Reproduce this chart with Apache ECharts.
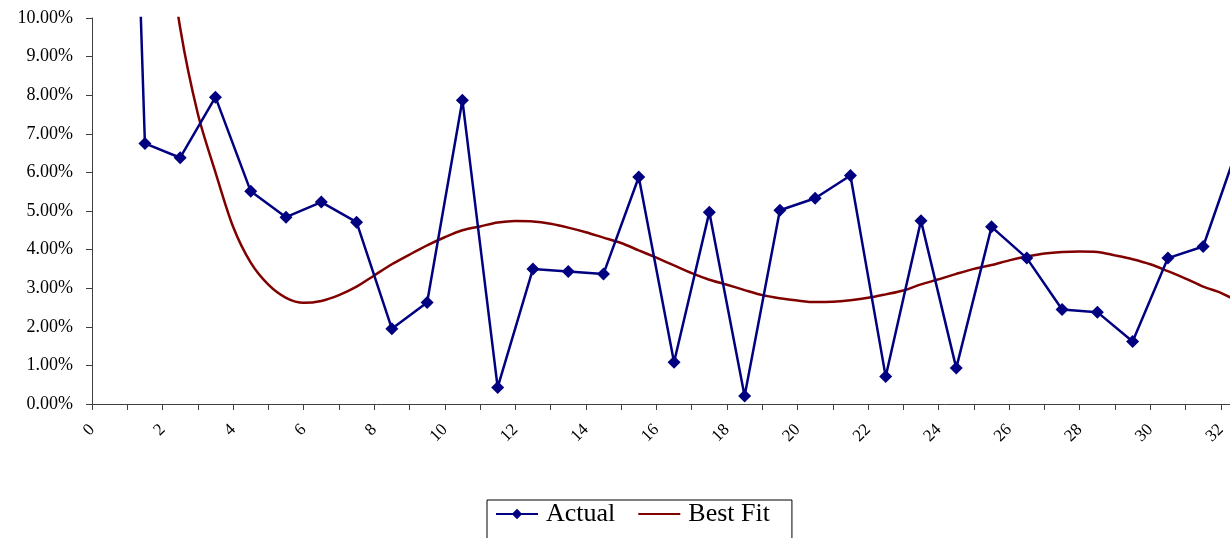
<!DOCTYPE html>
<html>
<head>
<meta charset="utf-8">
<script src="https://cdn.jsdelivr.net/npm/echarts@6/dist/echarts.min.js"></script>
<style>
html,body{margin:0;padding:0;background:#fff;}
#chart{width:1230px;height:538px;}
</style>
</head>
<body>
<div id="chart"></div>
<script>
// ---- data (values in %) ----
const actualX = [0.5,1.5,2.5,3.5,4.5,5.5,6.5,7.5,8.5,9.5,10.5,11.5,12.5,13.5,14.5,15.5,16.5,17.5,18.5,19.5,20.5,21.5,22.5,23.5,24.5,25.5,26.5,27.5,28.5,29.5,30.5,31.5,32.5];
const actualValues = [35.0,6.75,6.38,7.95,5.51,4.84,5.23,4.71,1.95,2.63,7.87,0.43,3.50,3.43,3.37,5.88,1.08,4.97,0.21,5.02,5.33,5.92,0.71,4.75,0.93,4.59,3.78,2.45,2.38,1.62,3.78,4.08,6.71];

const fitX = [2.0,2.5,3.0,3.5,4.0,4.5,5.0,5.5,6.0,6.5,7.0,7.5,8.0,8.5,9.0,9.5,10.0,10.5,11.0,11.5,12.0,12.5,13.0,13.5,14.0,14.5,15.0,15.5,16.0,16.5,17.0,17.5,18.0,18.5,19.0,19.5,20.0,20.5,21.0,21.5,22.0,22.5,23.0,23.5,24.0,24.5,25.0,25.5,26.0,26.5,27.0,27.5,28.0,28.5,29.0,29.5,30.0,30.5,31.0,31.5,32.0,32.5];
const fitValues = [13.0,9.74,7.52,6.0,4.59,3.66,3.09,2.75,2.62,2.67,2.82,3.04,3.33,3.62,3.87,4.11,4.32,4.50,4.60,4.70,4.74,4.73,4.67,4.57,4.45,4.31,4.17,3.98,3.79,3.59,3.39,3.22,3.09,2.95,2.82,2.74,2.68,2.64,2.65,2.69,2.75,2.84,2.94,3.10,3.23,3.37,3.50,3.60,3.72,3.82,3.90,3.94,3.95,3.94,3.85,3.75,3.62,3.44,3.25,3.04,2.88,2.65];

const xTickLabels = ['0','2','4','6','8','10','12','14','16','18','20','22','24','26','28','30','32'];
const seriesNames = ['Actual','Best Fit'];

const actualData = actualX.map((x,i)=>[x, actualValues[i]]);
const fitData = fitX.map((x,i)=>[x, fitValues[i]]);

const FONT = '"Liberation Serif", "Times New Roman", serif';
const chart = echarts.init(document.getElementById('chart'), null, {renderer:'canvas'});
chart.setOption({
  backgroundColor:'#ffffff',
  animation:false,
  grid:{left:92, top:18, right:0, bottom:134, containLabel:false},
  legend:{
    data:[{name:seriesNames[0]}, {name:seriesNames[1], itemStyle:{opacity:0}}],
    left:487, top:500,
    orient:'horizontal',
    itemWidth:42, itemHeight:13,
    itemGap:22,
    padding:[1,22,30,8],
    borderColor:'#000', borderWidth:1,
    textStyle:{fontFamily:FONT, fontSize:26, color:'#000', padding:[0,0,0,3]}
  },
  xAxis:{
    type:'value', min:0, max:32.26, interval:1,
    axisLine:{lineStyle:{color:'#404040', width:1}},
    axisTick:{show:true, inside:false, length:6, lineStyle:{color:'#404040'}},
    splitLine:{show:false},
    axisLabel:{
      rotate:45, margin:23, color:'#000', fontFamily:FONT, fontSize:17,
      showMaxLabel:false,
      formatter:function(v){
        const s = String(Math.round(v));
        if (Math.abs(v-Math.round(v))>1e-6) return '';
        return xTickLabels.indexOf(s) >= 0 ? s : '';
      }
    }
  },
  yAxis:{
    type:'value', min:0, max:10, interval:1,
    axisLine:{show:true, lineStyle:{color:'#404040', width:1}},
    axisTick:{show:true, inside:false, length:6, lineStyle:{color:'#404040'}},
    splitLine:{show:false},
    axisLabel:{margin:19, color:'#000', fontFamily:FONT, fontSize:18,
      formatter:function(v){return v.toFixed(2)+'%';}}
  },
  series:[
    {
      name:seriesNames[0], type:'line', data:actualData, clip:true,
      symbol:'diamond', symbolSize:[13,13], showAllSymbol:true,
      lineStyle:{color:'#000080', width:2.5},
      itemStyle:{color:'#000080'},
      z:3
    },
    {
      name:seriesNames[1], type:'line', data:fitData, clip:true,
      smooth:0.3, symbol:'none', showSymbol:false,
      lineStyle:{color:'#800000', width:2.5},
      itemStyle:{color:'#800000'},
      z:2
    }
  ]
});
</script>
</body>
</html>
